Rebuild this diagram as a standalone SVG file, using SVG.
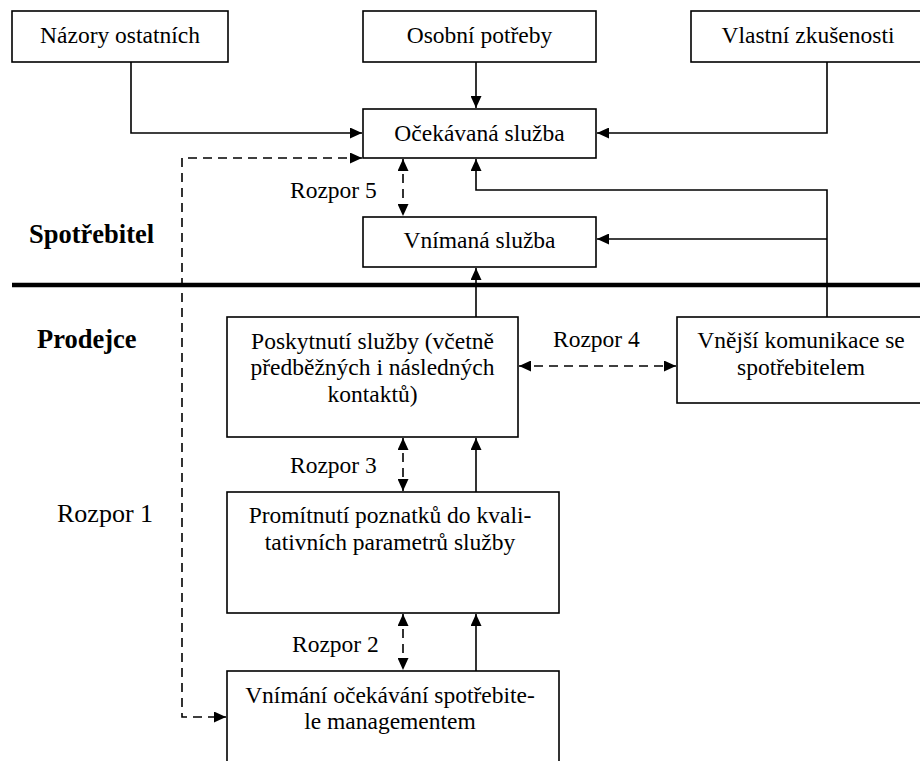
<svg xmlns="http://www.w3.org/2000/svg" width="920" height="761" viewBox="0 0 920 761" font-family="'Liberation Serif', 'DejaVu Serif', serif">
<style>
.box{fill:#fff;stroke:#000;stroke-width:1.6}
.t{font-size:23.5px;fill:#000;text-anchor:middle}
.lbl{font-size:23.5px;fill:#000}
.b{font-size:26.5px;font-weight:bold;fill:#000}
.c{fill:none;stroke:#000;stroke-width:1.6}
.d{fill:none;stroke:#000;stroke-width:1.6;stroke-dasharray:9 6}
</style>
<defs>
<marker id="ah" viewBox="0 0 12 11" refX="12" refY="5.5" markerWidth="12" markerHeight="11" markerUnits="userSpaceOnUse" orient="auto-start-reverse">
<path d="M0,0 L12,5.5 L0,11 z" fill="#000"/>
</marker>
</defs>
<rect width="920" height="761" fill="#fff"/>

<g id="connectors">
<path class="c" d="M131,62 V133 H362" marker-end="url(#ah)"/>
<path class="c" d="M476,62 V108" marker-end="url(#ah)"/>
<path class="c" d="M827,62 V133 H597" marker-end="url(#ah)"/>
<path class="c" d="M827,317 V190 H476 V159" marker-end="url(#ah)"/>
<path class="c" d="M827,239 H597" marker-end="url(#ah)"/>
<path class="c" d="M476,317 V268" marker-end="url(#ah)"/>
<path class="c" d="M476,492 V438" marker-end="url(#ah)"/>
<path class="c" d="M476,671 V614" marker-end="url(#ah)"/>
<path class="d" d="M403,159 V216" marker-start="url(#ah)" marker-end="url(#ah)"/>
<path class="d" d="M519,366 H676" marker-start="url(#ah)" marker-end="url(#ah)"/>
<path class="d" d="M403,438 V491" marker-start="url(#ah)" marker-end="url(#ah)"/>
<path class="d" d="M403,614 V670" marker-start="url(#ah)" marker-end="url(#ah)"/>
<path class="d" d="M362,158 H182 V717 H226" marker-start="url(#ah)" marker-end="url(#ah)"/>
<line x1="12" y1="285" x2="920" y2="285" stroke="#000" stroke-width="4.5"/>
</g>

<g id="nazory"><rect class="box" x="12" y="11" width="216" height="51"/><text class="t" x="120" y="43">Názory ostatních</text></g>
<g id="osobni"><rect class="box" x="363" y="11" width="233" height="51"/><text class="t" x="479.5" y="43">Osobní potřeby</text></g>
<g id="vlastni"><rect class="box" x="691" y="11" width="240" height="51"/><text class="t" x="808" y="43">Vlastní zkušenosti</text></g>
<g id="ocekavana"><rect class="box" x="363" y="109" width="233" height="49"/><text class="t" x="479.5" y="141">Očekávaná služba</text></g>
<g id="vnimana"><rect class="box" x="363" y="217" width="233" height="50"/><text class="t" x="479.5" y="248">Vnímaná služba</text></g>
<g id="poskytnuti"><rect class="box" x="227" y="317" width="291" height="120"/>
<text class="t" x="372.5" y="349">Poskytnutí služby (včetně</text>
<text class="t" x="372.5" y="375">předběžných i následných</text>
<text class="t" x="372.5" y="402">kontaktů)</text></g>
<g id="vnejsi"><rect class="box" x="677" y="317" width="254" height="86"/>
<text class="t" x="801" y="348">Vnější komunikace se</text>
<text class="t" x="801" y="375">spotřebitelem</text></g>
<g id="promitnuti"><rect class="box" x="227" y="492" width="332" height="121"/>
<text class="t" x="390" y="523">Promítnutí poznatků do kvali-</text>
<text class="t" x="390" y="550">tativních parametrů služby</text></g>
<g id="vnimani"><rect class="box" x="227" y="671" width="332" height="110"/>
<text class="t" x="390" y="703">Vnímání očekávání spotřebite-</text>
<text class="t" x="390" y="729">le managementem</text></g>

<g id="labels">
<text class="b" x="29" y="243">Spotřebitel</text>
<text class="b" x="37" y="348">Prodejce</text>
<text class="lbl" x="290" y="198">Rozpor 5</text>
<text class="lbl" x="553" y="347">Rozpor 4</text>
<text class="lbl" x="290" y="473">Rozpor 3</text>
<text class="lbl" x="292" y="652">Rozpor 2</text>
<text class="lbl" x="57" y="522" style="font-size:26px">Rozpor 1</text>
</g>
</svg>
